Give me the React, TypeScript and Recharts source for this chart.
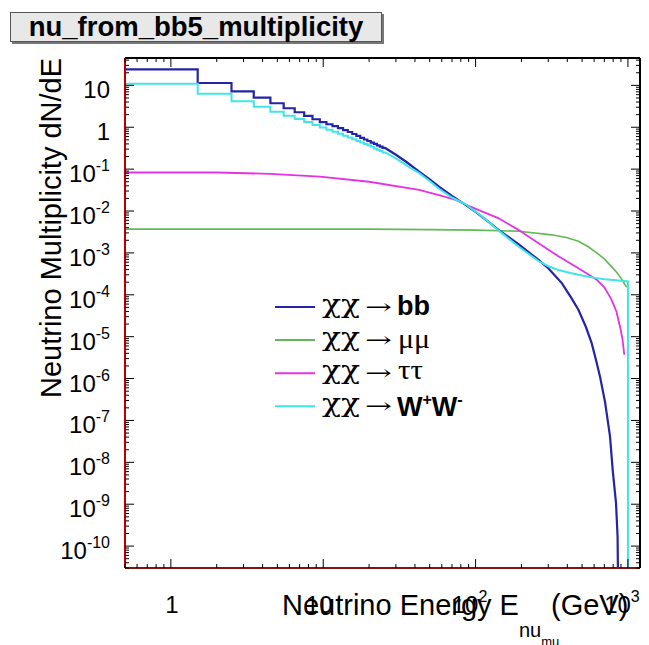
import React from "react";
import { LineChart, Line, XAxis, YAxis, Legend } from "recharts";

const title = "nu_from_bb5_multiplicity";

// histograms have 1 GeV bins centred on 1, 2, 3 ... GeV; first bin edge at 0.5
const binLowEdge = 0.5;
const bbBins = [24.2, 11.4, 7.2, 5.1, 3.74, 2.84, 2.28, 1.86, 1.55, 1.32, 1.18, 1.06, 0.95, 0.85, 0.77, 0.69, 0.62, 0.56, 0.51, 0.47, 0.43, 0.4, 0.37, 0.345, 0.32];
const wwBins = [11.0, 6.3, 4.2, 3.1, 2.36, 1.89, 1.58, 1.34, 1.13, 0.98, 0.87, 0.78, 0.7, 0.63, 0.57, 0.52, 0.47, 0.43, 0.4, 0.37, 0.34, 0.31, 0.29, 0.27, 0.25];

// above ~25 GeV the bins are too narrow to see, read as points
const bbTailE = [30, 35, 42.6, 50, 57.5, 70, 86, 100, 120, 142, 192, 259, 300, 368, 420, 473, 530, 578, 620, 656, 707, 763, 794, 835, 855, 862];
const bbTailV = [0.22, 0.15, 0.087, 0.057, 0.038, 0.023, 0.014, 0.0095, 0.0057, 0.0035, 0.0016, 6.8e-4, 4.3e-4, 1.9e-4, 9.0e-5, 4.4e-5, 1.7e-5, 7e-6, 2.6e-6, 1.1e-6, 2.8e-7, 4.1e-8, 6.6e-9, 1.07e-9, 1.7e-10, 1e-11];

const wwTailE = [30, 35, 42.6, 50, 57.5, 70, 86, 100, 120, 142, 192, 259, 300, 350, 420, 473, 550, 624, 700, 800, 900, 1000, 1000];
const wwTailV = [0.18, 0.125, 0.08, 0.052, 0.034, 0.021, 0.0145, 0.0097, 0.0058, 0.0034, 0.0014, 6.4e-4, 4.8e-4, 3.9e-4, 3.3e-4, 3.0e-4, 2.7e-4, 2.5e-4, 2.35e-4, 2.25e-4, 2.15e-4, 2.08e-4, 1e-12];

const mumuE = [0.5, 5, 20, 50, 100, 192, 316, 400, 473, 550, 624, 700, 780, 840, 888, 930, 955, 975, 991];
const mumuV = [0.0037, 0.0037, 0.0037, 0.0036, 0.0035, 0.0033, 0.0027, 0.0023, 0.0019, 0.0014, 0.001, 7.2e-4, 4.7e-4, 3.5e-4, 2.7e-4, 2.1e-4, 1.73e-4, 1.6e-4, 1.55e-4];

const tautauE = [0.5, 2, 4.5, 9.5, 20, 42.6, 57.5, 74, 90, 142, 192, 259, 350, 473, 624, 700, 780, 840, 888, 920, 946];
const tautauV = [0.083, 0.083, 0.077, 0.066, 0.05, 0.032, 0.024, 0.0184, 0.0133, 0.0067, 0.0035, 0.0017, 8.3e-4, 4.3e-4, 2.3e-4, 1.5e-4, 7.7e-5, 4e-5, 1.7e-5, 9e-6, 3.7e-6];

const xDomain = [0.5, 1200];
const yDomain = [3e-11, 45];
const xDecades = [0.1, 1, 10, 100, 1000];
const yDecades = [1e-11, 1e-10, 1e-9, 1e-8, 1e-7, 1e-6, 1e-5, 1e-4, 1e-3, 1e-2, 1e-1, 1, 10];
const tickSteps = [1, 2, 3, 4, 5, 6, 7, 8, 9];

const legendOrder = ["bb", "mumu", "tautau", "WW"];

const sans = '"Liberation Sans", Arial, Helvetica, sans-serif';
const serif = '"Liberation Serif", "Times New Roman", serif';
const greek = '"DejaVu Serif", serif';

type Pt = { e: number; v: number };

function histPoints(bins: number[]): Pt[] {
  const pts: Pt[] = [];
  bins.forEach((v, i) => {
    pts.push({ e: binLowEdge + i, v }, { e: binLowEdge + i + 1, v });
  });
  return pts;
}

function zip(es: number[], vs: number[]): Pt[] {
  return es.map((e, i) => ({ e, v: vs[i] }));
}

const bbData = [...histPoints(bbBins), ...zip(bbTailE, bbTailV)];
const wwData = [...histPoints(wwBins), ...zip(wwTailE, wwTailV)];
const mumuData = zip(mumuE, mumuV);
const tautauData = zip(tautauE, tautauV);

function logTicks(decades: number[], domain: number[]) {
  const out: number[] = [];
  decades.forEach((d) => tickSteps.forEach((k) => out.push(k * d)));
  return out.filter((t) => t >= domain[0] * 0.999 && t <= domain[1] * 1.001);
}

const xTicks = logTicks(xDecades, xDomain);
const yTicks = logTicks(yDecades, yDomain);

const isMajor = (v: number) => Math.abs(Math.log10(v) - Math.round(Math.log10(v))) < 1e-6;
const expOf = (v: number) => Math.round(Math.log10(v));

function PowText({ v, sup, ...rest }: any) {
  const n = expOf(v);
  if (n === 0) return <text {...rest}>1</text>;
  if (n === 1) return <text {...rest}>10</text>;
  return (
    <text {...rest}>
      <tspan>10</tspan>
      <tspan dy={-11} fontSize={sup}>{n}</tspan>
    </text>
  );
}

const LeftTick = ({ x, y, payload }: any) => {
  const major = isMajor(payload.value);
  return (
    <g>
      <line x1={x} x2={x + (major ? 9 : 4)} y1={y} y2={y} stroke="#000" strokeWidth={1} />
      {major && (
        <PowText v={payload.value} sup={16} x={x - 15} y={y + 13} textAnchor="end" fontSize={24} fontFamily={sans} fill="#000" />
      )}
    </g>
  );
};

const RightTick = ({ x, y, payload }: any) => {
  const major = isMajor(payload.value);
  return <line x1={x} x2={x - (major ? 9 : 4)} y1={y} y2={y} stroke="#000" strokeWidth={1} />;
};

const BottomTick = ({ x, y, payload }: any) => {
  const major = isMajor(payload.value);
  const n = expOf(payload.value);
  const shift = n === 0 ? 1 : n === 1 ? -4 : -6;
  return (
    <g>
      <line x1={x} x2={x} y1={y} y2={y - (major ? 9 : 4)} stroke="#000" strokeWidth={1} />
      {major && (
        <PowText v={payload.value} sup={16} x={x + shift} y={y + 45} textAnchor="middle" fontSize={24} fontFamily={sans} fill="#000" />
      )}
    </g>
  );
};

const TopTick = ({ x, y, payload }: any) => {
  const major = isMajor(payload.value);
  return <line x1={x} x2={x} y1={y} y2={y + (major ? 9 : 4)} stroke="#000" strokeWidth={1} />;
};

const XTitle = () => (
  <text x={282} y={615} fontFamily={sans} fontSize={29} fill="#000">
    <tspan>Neutrino Energy E</tspan>
    <tspan dy={22} fontSize={20}>nu</tspan>
    <tspan dy={9} fontSize={13}>mu</tspan>
    <tspan x={551} y={615}>(GeV)</tspan>
  </text>
);

const YTitle = () => (
  <text x={61} y={228} transform="rotate(-90 61 228)" textAnchor="middle" fontFamily={sans} fontSize={29} fill="#000">
    Neutrino Multiplicity dN/dE
  </text>
);

function targetLabel(key: string) {
  if (key === "bb")
    return <text x={127} y={8} fontFamily={sans} fontWeight="bold" fontSize={27}>bb</text>;
  if (key === "mumu")
    return <text x={128} y={8} fontFamily={serif} fontSize={28} textLength={32} lengthAdjust="spacingAndGlyphs">μμ</text>;
  if (key === "tautau")
    return <text x={128} y={6} fontFamily={serif} fontSize={28} textLength={25} lengthAdjust="spacingAndGlyphs">ττ</text>;
  return (
    <text x={127} y={10} fontFamily={sans} fontWeight="bold" fontSize={27}>
      <tspan>W</tspan>
      <tspan dy={-11} fontSize={16}>+</tspan>
      <tspan dy={11}>W</tspan>
      <tspan dy={-11} fontSize={16}>-</tspan>
    </text>
  );
}

function renderLegend(props: any) {
  const payload: any[] = props.payload || [];
  const rows = legendOrder.map((k) => payload.find((p) => p.value === k)).filter(Boolean);
  return (
    <svg width={240} height={140} style={{ display: "block" }}>
      {rows.map((it: any, i: number) => {
        const cy = 17 + i * 33.1;
        return (
          <g key={it.value} transform={`translate(0 ${cy})`}>
            <line x1={5} x2={45} y1={0} y2={0} stroke={it.color} strokeWidth={2} />
            <text x={52} y={6} fontFamily={greek} fontSize={26} textLength={38} lengthAdjust="spacingAndGlyphs">χχ</text>
            <text x={95} y={7} fontFamily={greek} fontSize={21} textLength={27} lengthAdjust="spacingAndGlyphs">→</text>
            {targetLabel(it.value)}
          </g>
        );
      })}
    </svg>
  );
}

function TitleBox() {
  return (
    <div
      style={{
        position: "absolute",
        left: 10,
        top: 12,
        width: 370,
        height: 28,
        background: "#e8e8e8",
        border: "1px solid #555",
        boxShadow: "2px 2px 0 #777",
        font: `bold 27.5px ${sans}`,
        lineHeight: "28px",
        textAlign: "center",
        color: "#000",
      }}
    >
      {title}
    </div>
  );
}

export default function App() {
  return (
    <div style={{ position: "absolute", left: 0, top: 0, width: 649, height: 645, background: "#fff", overflow: "hidden" }}>
      <LineChart width={649} height={645} margin={{ top: 57, right: 8, bottom: 0, left: 0 }}>
        <XAxis
          dataKey="e"
          type="number"
          scale="log"
          domain={xDomain}
          allowDataOverflow
          ticks={xTicks}
          interval={0}
          tickSize={0}
          tickMargin={0}
          height={77}
          tick={<BottomTick />}
          axisLine={{ stroke: "#7d1515", strokeWidth: 2 }}
          label={{ content: () => <XTitle /> }}
        />
        <XAxis
          xAxisId="top"
          orientation="top"
          dataKey="e"
          type="number"
          scale="log"
          domain={xDomain}
          allowDataOverflow
          ticks={xTicks}
          interval={0}
          tickSize={0}
          tickMargin={0}
          height={1}
          tick={<TopTick />}
          axisLine={{ stroke: "#000", strokeWidth: 2 }}
        />
        <YAxis
          type="number"
          scale="log"
          domain={yDomain}
          allowDataOverflow
          ticks={yTicks}
          interval={0}
          tickSize={0}
          tickMargin={0}
          width={125}
          tick={<LeftTick />}
          axisLine={{ stroke: "#b80000", strokeWidth: 2 }}
          label={{ content: () => <YTitle /> }}
        />
        <YAxis
          yAxisId="right"
          orientation="right"
          type="number"
          scale="log"
          domain={yDomain}
          allowDataOverflow
          ticks={yTicks}
          interval={0}
          tickSize={0}
          tickMargin={0}
          width={1}
          tick={<RightTick />}
          axisLine={{ stroke: "#000", strokeWidth: 2 }}
        />
        <Legend
          content={renderLegend}
          layout="horizontal"
          verticalAlign="middle"
          align="center"
          wrapperStyle={{ left: 270, top: 290, width: 240, height: 140 }}
        />
        <Line data={mumuData} dataKey="v" name="mumu" stroke="#62b955" strokeWidth={1.6} dot={false} isAnimationActive={false} />
        <Line data={tautauData} dataKey="v" name="tautau" stroke="#e333e3" strokeWidth={1.8} dot={false} isAnimationActive={false} />
        <Line data={bbData} dataKey="v" name="bb" stroke="#2424a6" strokeWidth={2.2} dot={false} isAnimationActive={false} />
        <Line data={wwData} dataKey="v" name="WW" stroke="#40e6e6" strokeWidth={2} dot={false} isAnimationActive={false} />
      </LineChart>
      <TitleBox />
    </div>
  );
}
